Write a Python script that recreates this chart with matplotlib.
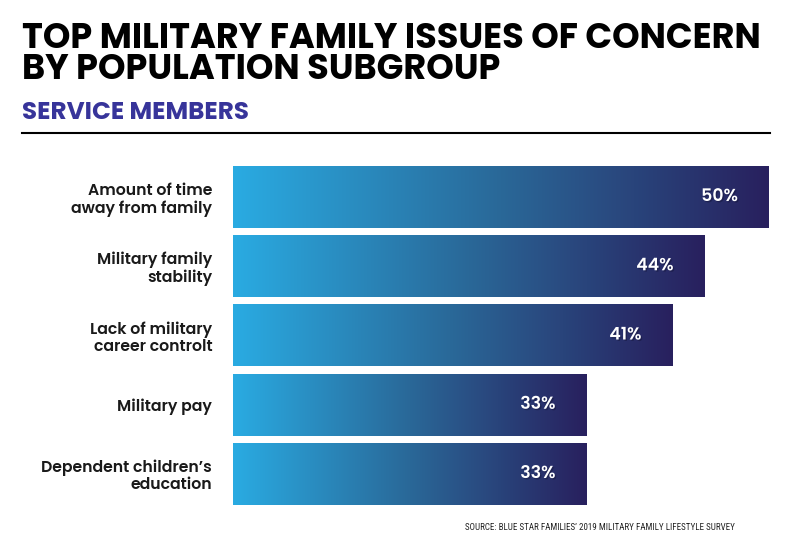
import numpy as np
import matplotlib.pyplot as plt
from matplotlib.colors import LinearSegmentedColormap
import matplotlib.patheffects as pe

categories = ['Amount of time\naway from family', 'Military family\nstability',
              'Lack of military\ncareer controlt', 'Military pay',
              'Dependent children\u2019s\neducation']
values = [50, 44, 41, 33, 33]
labels = ['50%', '44%', '41%', '33%', '33%']

title = 'TOP MILITARY FAMILY ISSUES OF CONCERN\nBY POPULATION SUBGROUP'
subtitle = 'SERVICE MEMBERS'
source = 'SOURCE: BLUE STAR FAMILIES\u2019 2019 MILITARY FAMILY LIFESTYLE SURVEY'

NARROW = ['Roboto Condensed', 'Archivo Narrow', 'DejaVu Sans']
WIDE = ['Poppins', 'Lato', 'DejaVu Sans']

cmap = LinearSegmentedColormap.from_list('bar', ['#29abe2', '#2a6898', '#28205e'])
grad = np.linspace(0, 1, 256).reshape(1, -1)

W, H = 800, 551
fig = plt.figure(figsize=(8, 5.51), dpi=100)
ax = fig.add_axes([233 / W, 1 - 508.6 / H, (769 - 233) / W, (508.6 - 162.4) / H])

# balken mit farbverlauf
bh = 0.89
for i, (v, lab) in enumerate(zip(values, labels)):
    ax.imshow(grad, cmap=cmap, aspect='auto', extent=[0, v, i + bh / 2, i - bh / 2],
              interpolation='bicubic', zorder=2)
    ax.text(v - 2.9, i, lab, ha='right', va='center', color='white',
            fontsize=12.5, fontweight='semibold', family=WIDE, zorder=3,
            path_effects=[pe.withSimplePatchShadow(offset=(1, -1), shadow_rgbFace='#101030', alpha=0.4)])

ax.set_xlim(0, 50)
ax.set_ylim(len(values) - 0.5, -0.5)
ax.set_yticks(range(len(values)))
ax.set_yticklabels(categories, fontsize=11.3, fontweight='semibold', color='#1a1a1a',
                   family=WIDE, linespacing=1.1)
ax.tick_params(axis='y', length=0, pad=15)
ax.set_xticks([])
for s in ax.spines.values():
    s.set_visible(False)

fig.text(22 / W, 1 - 22 / H, title, ha='left', va='top', fontsize=25.3, fontweight='bold',
         family=WIDE, color='black', linespacing=0.86)
fig.text(22 / W, 1 - 101 / H, subtitle, ha='left', va='top', fontsize=17.8, fontweight='bold',
         family=WIDE, color='#37349a')
fig.add_artist(plt.Line2D([22 / W, 770 / W], [1 - 132.5 / H, 1 - 132.5 / H], color='black', lw=1.5))
fig.text(465 / W, 1 - 527 / H, source, ha='left', va='center', fontsize=6.5,
         family=NARROW, color='#222222')

fig.savefig('out.png', dpi=100)
